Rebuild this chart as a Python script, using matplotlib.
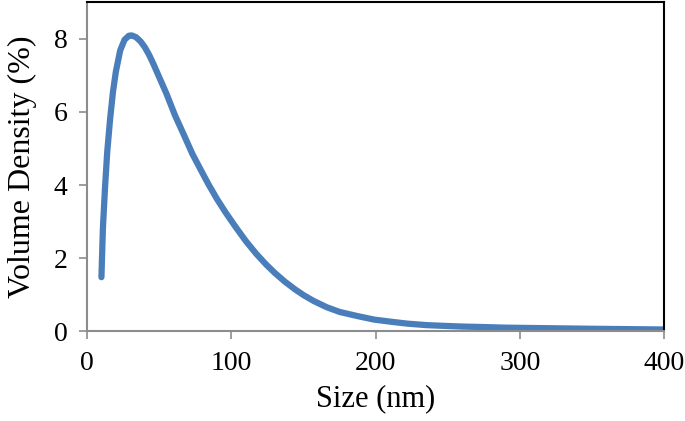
import matplotlib.pyplot as plt

plt.rcParams['font.family'] = ['Liberation Serif', 'DejaVu Serif']

# volume density distribution
size_nm = [10, 11, 12.5, 14, 16, 18, 20, 23, 26, 29, 31, 34, 37, 40, 43, 46, 50, 55, 61,
           67, 73, 79, 84, 90, 96, 103, 110, 117, 124, 130, 137, 144, 150, 157, 166,
           175, 187, 199, 211, 222, 235, 247, 260, 272, 290, 310, 330, 350, 375, 400]
density = [1.48, 2.8, 3.94, 4.9, 5.8, 6.55, 7.1, 7.68, 7.97, 8.08, 8.09, 8.04, 7.93,
           7.77, 7.56, 7.31, 6.95, 6.5, 5.9, 5.38, 4.85, 4.4, 4.03, 3.62, 3.25, 2.85, 2.47,
           2.13, 1.83, 1.6, 1.36, 1.15, 0.99, 0.83, 0.66, 0.53, 0.42, 0.32, 0.26, 0.21,
           0.17, 0.15, 0.13, 0.12, 0.1, 0.09, 0.08, 0.07, 0.06, 0.05]

fig = plt.figure(figsize=(6.85, 4.21), dpi=100)
ax = fig.add_axes([0.127, 0.213, 0.843, 0.782])
ax.plot(size_nm, density, color='#4a7ebb', linewidth=4.5,
        solid_capstyle='round', solid_joinstyle='round')

ax.set_xlim(0, 400)
ax.set_ylim(0, 9)
ax.set_xticks([0, 100, 200, 300, 400])
ax.set_yticks([0, 2, 4, 6, 8])
ax.set_xlabel('Size (nm)', fontsize=22, labelpad=6)
ax.set_ylabel('Volume Density (%)', fontsize=23, labelpad=12)
ax.tick_params(labelsize=20, color='#8c8c8c', length=6, width=1.2, pad=8)

for side in ['left', 'bottom']:
    ax.spines[side].set_color('#8c8c8c')
    ax.spines[side].set_linewidth(1.5)
for side in ['top', 'right']:
    ax.spines[side].set_color('black')
    ax.spines[side].set_linewidth(1.5)

fig.savefig('out.png', dpi=100)
